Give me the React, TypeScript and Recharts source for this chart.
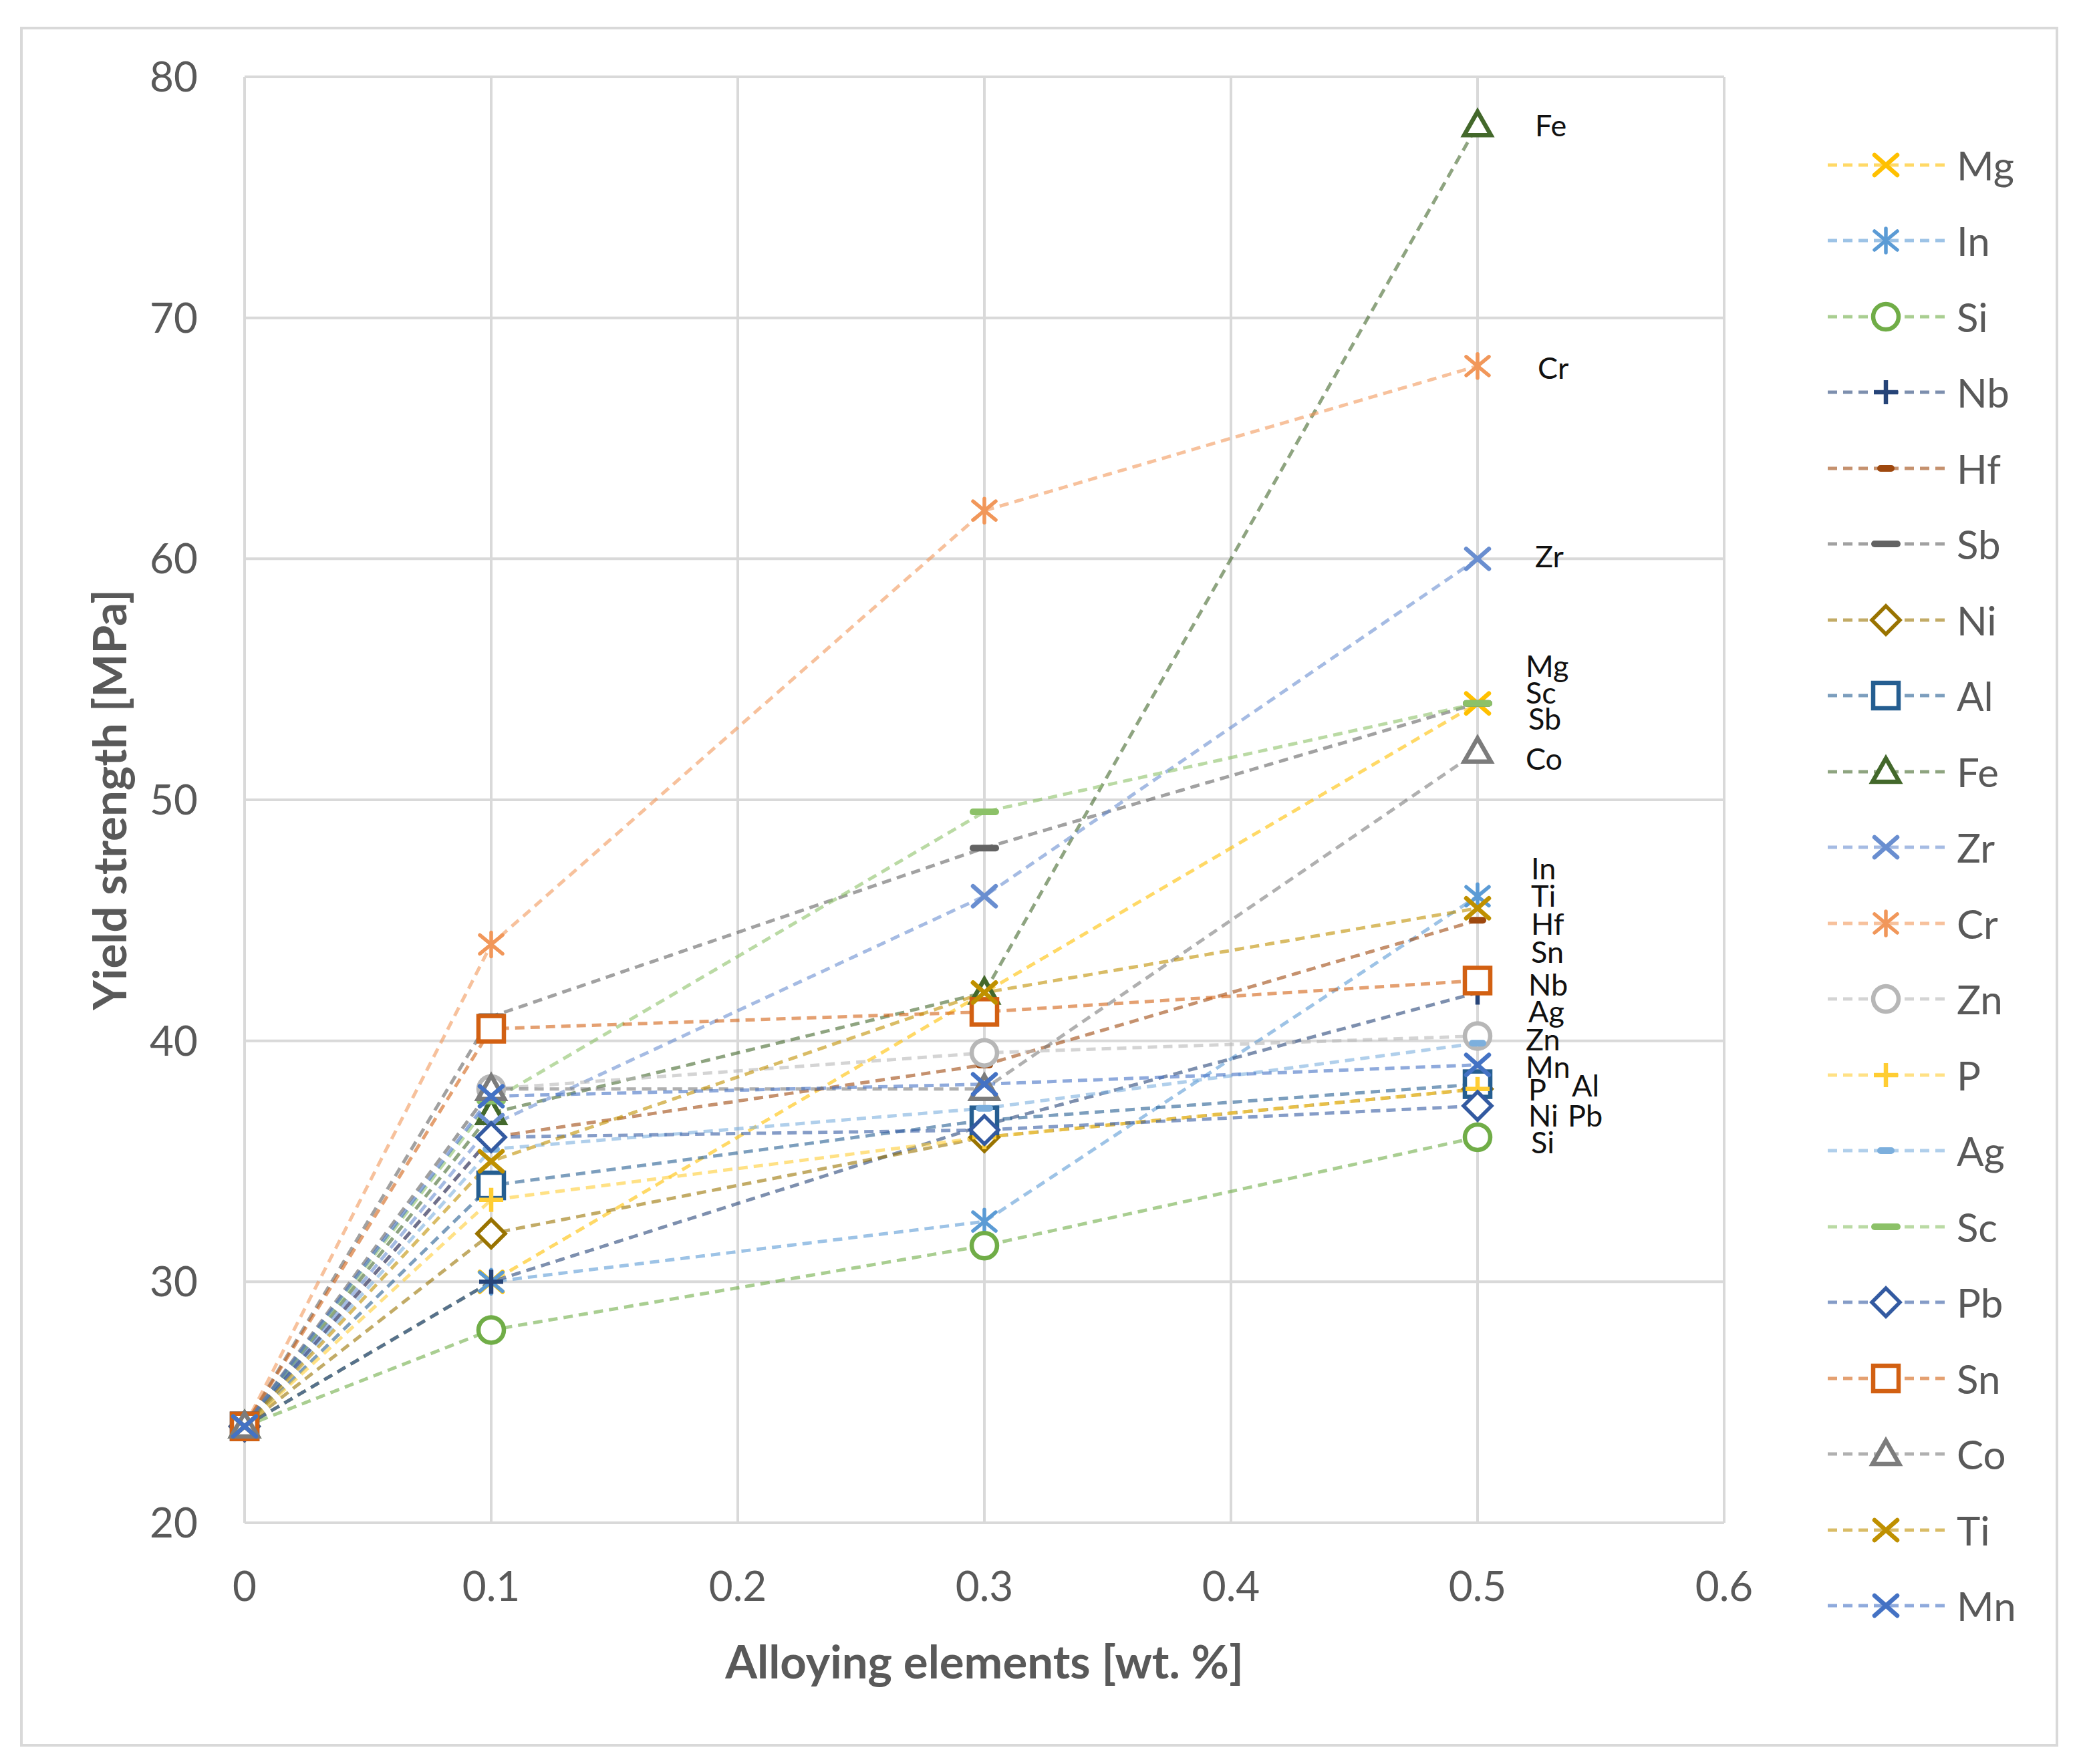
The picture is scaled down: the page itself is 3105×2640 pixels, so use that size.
import React from 'react';
import { LineChart, Line, XAxis, YAxis, CartesianGrid, Legend } from 'recharts';

// ---- data ----
const xValues = [0, 0.1, 0.3, 0.5];
const mg = [24, 30, 42, 54];
const inn = [24, 30, 32.5, 46];
const si = [24, 28, 31.5, 36];
const nb = [24, 30, 36.5, 42];
const hf = [24, 36, 39, 45];
const sb = [24, 41, 48, 54];
const ni = [24, 32, 36, 38];
const al = [24, 34, 36.7, 38.2];
const fe = [24, 37, 42, 78];
const zr = [24, 36.5, 46, 60];
const cr = [24, 44, 62, 68];
const zn = [24, 38, 39.5, 40.2];
const p = [24, 33.4, 36, 38];
const ag = [24, 35.5, 37.2, 39.9];
const sc = [24, 37.5, 49.5, 54];
const pb = [24, 36, 36.3, 37.3];
const sn = [24, 40.5, 41.2, 42.5];
const co = [24, 38, 38, 52];
const ti = [24, 35, 42, 45.5];
const mn = [24, 37.7, 38.2, 39];

const xTicks = [0, 0.1, 0.2, 0.3, 0.4, 0.5, 0.6];
const yTicks = [20, 30, 40, 50, 60, 70, 80];

const seriesNames = ['Mg', 'In', 'Si', 'Nb', 'Hf', 'Sb', 'Ni', 'Al', 'Fe', 'Zr', 'Cr', 'Zn', 'P', 'Ag', 'Sc', 'Pb', 'Sn', 'Co', 'Ti', 'Mn'];
const seriesValues = [mg, inn, si, nb, hf, sb, ni, al, fe, zr, cr, zn, p, ag, sc, pb, sn, co, ti, mn];

// ---- styles ----
const STYLE: Record<string, { color: string; shape: string; ldx: number; ldy: number }> = {
  Mg: { color: '#FFC000', shape: 'x', ldx: 72, ldy: -57 },
  In: { color: '#5B9BD5', shape: 'star', ldx: 80, ldy: -42 },
  Si: { color: '#70AD47', shape: 'circle', ldx: 80, ldy: 7 },
  Nb: { color: '#264478', shape: 'plus', ldx: 76, ldy: -13 },
  Hf: { color: '#9E480E', shape: 'dot', ldx: 80, ldy: 5 },
  Sb: { color: '#636363', shape: 'dash', ldx: 76, ldy: 22 },
  Ni: { color: '#997300', shape: 'diamond', ldx: 76, ldy: 39 },
  Al: { color: '#255E91', shape: 'square', ldx: 141, ldy: 1 },
  Fe: { color: '#43682B', shape: 'triangle', ldx: 86, ldy: 0 },
  Zr: { color: '#698ED0', shape: 'x', ldx: 86, ldy: -4 },
  Cr: { color: '#F1975A', shape: 'star', ldx: 90, ldy: 2 },
  Zn: { color: '#B7B7B7', shape: 'circle', ldx: 72, ldy: 5 },
  P: { color: '#FFCD33', shape: 'plus', ldx: 76, ldy: 0 },
  Ag: { color: '#7CAFDD', shape: 'dot', ldx: 76, ldy: -48 },
  Sc: { color: '#8CC168', shape: 'dash', ldx: 72, ldy: -17 },
  Pb: { color: '#335AA1', shape: 'diamond', ldx: 135, ldy: 14 },
  Sn: { color: '#D26012', shape: 'square', ldx: 80, ldy: -44 },
  Co: { color: '#7C7C7C', shape: 'triangle', ldx: 72, ldy: 10 },
  Ti: { color: '#BF9000', shape: 'x', ldx: 80, ldy: -19 },
  Mn: { color: '#4472C4', shape: 'x', ldx: 72, ldy: 2 },
};

const FONT = 'Lato, "Open Sans", sans-serif';
const GRAY = '#595959';

const chartData = xValues.map((x, i) => {
  const row: Record<string, number> = { x };
  seriesNames.forEach((n, k) => {
    row[n] = seriesValues[k][i];
  });
  return row;
});

function Marker({ shape, color, cx, cy }: { shape: string; color: string; cx: number; cy: number }) {
  const sw = 6.5;
  switch (shape) {
    case 'x':
      return (
        <g stroke={color} strokeWidth={sw} strokeLinecap="round">
          <line x1={cx - 17} y1={cy - 15} x2={cx + 17} y2={cy + 15} />
          <line x1={cx - 17} y1={cy + 15} x2={cx + 17} y2={cy - 15} />
        </g>
      );
    case 'star':
      return (
        <g stroke={color} strokeWidth={5.5} strokeLinecap="round">
          <line x1={cx - 17} y1={cy - 14} x2={cx + 17} y2={cy + 14} />
          <line x1={cx - 17} y1={cy + 14} x2={cx + 17} y2={cy - 14} />
          <line x1={cx} y1={cy - 18} x2={cx} y2={cy + 18} />
        </g>
      );
    case 'plus':
      return (
        <g stroke={color} strokeWidth={sw}>
          <line x1={cx - 18} y1={cy} x2={cx + 18} y2={cy} />
          <line x1={cx} y1={cy - 18} x2={cx} y2={cy + 18} />
        </g>
      );
    case 'dash':
      return <rect x={cx - 22} y={cy - 5} width={44} height={10} rx={5} fill={color} />;
    case 'dot':
      return <rect x={cx - 13} y={cy - 5} width={26} height={10} rx={5} fill={color} />;
    case 'circle':
      return <circle cx={cx} cy={cy} r={19} fill="#fff" stroke={color} strokeWidth={sw} />;
    case 'square':
      return <rect x={cx - 19} y={cy - 19} width={38} height={38} fill="#fff" stroke={color} strokeWidth={sw} />;
    case 'diamond':
      return (
        <polygon
          points={`${cx},${cy - 21} ${cx + 21},${cy} ${cx},${cy + 21} ${cx - 21},${cy}`}
          fill="#fff"
          stroke={color}
          strokeWidth={5.5}
        />
      );
    case 'triangle':
      return (
        <polygon
          points={`${cx},${cy - 20} ${cx + 20},${cy + 15} ${cx - 20},${cy + 15}`}
          fill="#fff"
          stroke={color}
          strokeWidth={sw}
          strokeLinejoin="miter"
        />
      );
    default:
      return null;
  }
}

function LegendContent(props: any) {
  const payload = [...(props.payload || [])].sort(
    (a: any, b: any) => seriesNames.indexOf(a.value) - seriesNames.indexOf(b.value)
  );
  return (
    <div style={{ fontFamily: FONT }}>
      {payload.map((entry: any) => {
        const name = entry.value;
        const st = STYLE[name];
        if (!st) return null;
        return (
          <div key={name} style={{ height: 113.5, display: 'flex', alignItems: 'center' }}>
            <svg width={208} height={60} style={{ display: 'block' }}>
              <line x1={15} y1={30} x2={190} y2={30} stroke={st.color} strokeOpacity={0.6} strokeWidth={5} strokeDasharray="14 9" />
              <Marker shape={st.shape} color={st.color} cx={102} cy={30} />
            </svg>
            <span style={{ fontSize: 60, color: GRAY, lineHeight: 1 }}>{name}</span>
          </div>
        );
      })}
    </div>
  );
}

function makeDot(name: string) {
  const st = STYLE[name];
  return (props: any) => {
    const { cx, cy, index } = props;
    if (cx == null || cy == null) return <g key={`${name}-d-${index}`} />;
    return (
      <g key={`${name}-d-${index}`}>
        <Marker shape={st.shape} color={st.color} cx={cx} cy={cy} />
      </g>
    );
  };
}

function makeLabel(name: string) {
  const st = STYLE[name];
  return (props: any) => {
    const { x, y, index } = props;
    if (index !== xValues.length - 1 || x == null || y == null) return <g key={`${name}-l-${index}`} />;
    return (
      <text
        key={`${name}-l-${index}`}
        x={x + st.ldx}
        y={y + st.ldy}
        dominantBaseline="central"
        fontFamily={FONT}
        fontSize={45}
        fill="#111"
      >
        {name}
      </text>
    );
  };
}

export default function App() {
  return (
    <div style={{ position: 'absolute', left: 0, top: 0, width: 3105, height: 2640, background: '#fff' }}>
      <div
        style={{
          position: 'absolute',
          left: 30,
          top: 40,
          width: 3050,
          height: 2574,
          border: '4px solid #D9D9D9',
          boxSizing: 'border-box',
        }}
      />
      <div style={{ position: 'absolute', left: 0, top: 0 }}>
        <LineChart
          width={3105}
          height={2640}
          data={chartData}
          margin={{ top: 115, right: 165, left: 166, bottom: 161 }}
        >
          <CartesianGrid stroke="#D9D9D9" strokeWidth={4} />
          <XAxis
            dataKey="x"
            type="number"
            domain={[0, 0.6]}
            ticks={xTicks}
            height={200}
            axisLine={false}
            tickLine={false}
            tickSize={0}
            tickMargin={73}
            interval={0}
            tickFormatter={(v: number) => (v === 0 ? '0' : String(v))}
            tick={{ fill: GRAY, fontSize: 62, fontFamily: FONT }}
            label={{
              content: (lp: any) => {
                const vb = lp.viewBox;
                return (
                  <text
                    x={vb.x + vb.width / 2}
                    y={vb.y + 206}
                    textAnchor="middle"
                    dominantBaseline="central"
                    fontFamily={FONT}
                    fontWeight="bold"
                    fontSize={69}
                    fill={GRAY}
                  >
                    Alloying elements [wt. %]
                  </text>
                );
              },
            }}
          />
          <YAxis
            type="number"
            domain={[20, 80]}
            ticks={yTicks}
            width={200}
            axisLine={false}
            tickLine={false}
            tickSize={0}
            tickMargin={70}
            interval={0}
            tick={{ fill: GRAY, fontSize: 62, fontFamily: FONT }}
            label={{
              content: (lp: any) => {
                const vb = lp.viewBox;
                const cx = vb.x - 4;
                const cy = vb.y + vb.height / 2;
                return (
                  <text
                    x={cx}
                    y={cy}
                    transform={`rotate(-90 ${cx} ${cy})`}
                    textAnchor="middle"
                    dominantBaseline="central"
                    fontFamily={FONT}
                    fontWeight="bold"
                    fontSize={69}
                    fill={GRAY}
                  >
                    Yield strength [MPa]
                  </text>
                );
              },
            }}
          />
          <Legend
            layout="vertical"
            align="right"
            verticalAlign="top"
            itemSorter={null as any}
            content={<LegendContent />}
            wrapperStyle={{ position: 'absolute', left: 2720, top: 190, width: 360 }}
          />
          {seriesNames.map((name) => (
            <Line
              key={name}
              type="linear"
              dataKey={name}
              name={name}
              stroke={STYLE[name].color}
              strokeOpacity={0.6}
              strokeWidth={5}
              strokeDasharray="14 9"
              dot={makeDot(name)}
              activeDot={false}
              label={makeLabel(name)}
              isAnimationActive={false}
            />
          ))}
        </LineChart>
      </div>
    </div>
  );
}
